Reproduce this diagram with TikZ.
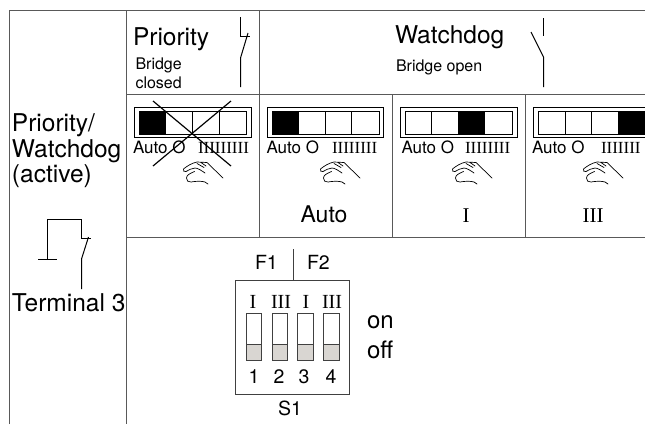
\documentclass[tikz,border=0pt]{standalone}
\usepackage{fontspec}
\setmainfont{TeX Gyre Heros}
\newfontfamily\serifx{Liberation Serif}
\newcommand{\fsz}[1]{\fontsize{#1}{#1}\selectfont}
\definecolor{dipgrey}{HTML}{D9D6D2}
\tikzset{
  txt/.style={inner sep=0pt,outer sep=0pt,anchor=base west,text=black},
  framel/.style={draw=black!65,line width=1pt},
  sym/.style={draw=black,line width=1pt},
  thinbox/.style={draw=black,line width=0.8pt,fill=white},
  bigtxt/.style={txt,font=\fsz{24.5}},
  smalltxt/.style={txt,font=\fsz{16}},
  postxt/.style={txt,font=\fsz{17}},
  posntxt/.style={txt,font=\serifx\fsz{17}},
  midtxt/.style={txt,font=\fsz{19.5},anchor=base},
  romanl/.style={txt,font=\serifx\fsz{21},anchor=base},
  handicon/.pic={
    \draw[black,line width=0.7pt,line cap=round,line join=round]
      (40,17) -- (24,1.5) -- (14,1) .. controls (9,2) and (4,5) .. (0.5,8)
      .. controls (0,10) and (1,11) .. (3,10.5) .. controls (6,9) and (9,7) .. (12,7)
      .. controls (15,7) and (19,10) .. (22,12)
      (11.5,10.5) .. controls (7,12.5) and (3.5,14) .. (3.5,17) .. controls (3.5,20) and (5,21) .. (8,21)
      .. controls (13,20) and (19,20) .. (22,21) -- (25,23)
      (14,2.5) -- (21,6.5) (18,1.5) -- (23,5);
  }
}
\begin{document}
\begin{tikzpicture}[x=1pt,y=-1pt]
\useasboundingbox (0,0) rectangle (645,424);
\fill[white] (0,0) rectangle (645,424);
% table frame
\draw[framel] (9,424) -- (9,10.5) -- (645,10.5);
\draw[framel] (126,10) -- (126,424);
\draw[framel] (126,94) -- (645,94);
\draw[framel] (126,237) -- (645,237);
\draw[framel] (259,10) -- (259,237);
\draw[framel,line width=0.8pt] (392,94) -- (392,237);
\draw[framel,line width=0.8pt] (525,94) -- (525,237);
% left column
\node[txt,font=\fontsize{24.5}{25.5}\selectfont,align=left,anchor=north west] (left) at (12,114) {Priority/\\Watchdog\\(active)};
\node[bigtxt] (term) at (12,311) {Terminal 3};
\draw[sym] (38,259) -- (57,259);
\draw[sym] (47.5,259) -- (47.5,219.5) -- (81.5,219.5) -- (81.5,238) -- (91,238);
\draw[sym] (88.5,237) -- (81.5,259) -- (81.5,289);
% headings
\node[bigtxt] (prio) at (133,45) {Priority};
\node[smalltxt] (br1) at (135.5,69) {Bridge};
\node[smalltxt] (br2) at (135.5,88) {closed};
\node[bigtxt] (wd) at (395,43) {Watchdog};
\node[smalltxt] (brop) at (396,71) {Bridge open};
\draw[sym] (240.5,17) -- (240.5,36) -- (250,36);
\draw[sym] (248,33) -- (240.5,58) -- (240.5,87);
\draw[sym] (543.5,18) -- (543.5,36);
\draw[sym] (531,32) -- (543.5,57) -- (543.5,87);
% rocker 1
\draw[thinbox] (134,107) rectangle (251,137);
\draw[thinbox] (139,111) rectangle (246,134);
\fill[black] (139,111) rectangle (166,134);
\draw[sym,line width=0.8pt] (192,111) -- (192,134) (219,111) -- (219,134);
\node[postxt] (a1) at (133,153) {Auto O};
\node[posntxt] (n1) at (198,153) {IIIIIIIII};
\pic at (183,161) {handicon};
% rocker 2
\draw[thinbox] (267,107) rectangle (383,137);
\draw[thinbox] (272,111) rectangle (379,134);
\fill[black] (272,111) rectangle (299,134);
\draw[sym,line width=0.8pt] (325.5,111) -- (325.5,134) (351.5,111) -- (351.5,134);
\node[postxt] (a2) at (266.5,153) {Auto O};
\node[posntxt] (n2) at (332,153) {IIIIIIII};
\pic at (320,161) {handicon};
\node[txt,font=\fsz{23},anchor=base] (l2) at (324,222) {Auto};
% rocker 3
\draw[thinbox] (400,107) rectangle (517,137);
\draw[thinbox] (405,111) rectangle (512,134);
\fill[black] (458,111) rectangle (485,134);
\draw[sym,line width=0.8pt] (431.7,111) -- (431.7,134);
\node[postxt] (a3) at (401.5,153) {Auto O};
\node[posntxt] (n3) at (465,153) {IIIIIIII};
\pic at (452,161) {handicon};
\node[romanl] (l3) at (466,222) {I};
% rocker 4
\draw[thinbox] (533,107) rectangle (647,137);
\draw[thinbox] (538,111) rectangle (647,134);
\fill[black] (618,111) rectangle (647,134);
\draw[sym,line width=0.8pt] (565,111) -- (565,134) (591.5,111) -- (591.5,134);
\node[postxt] (a4) at (532,153) {Auto O};
\node[posntxt] (n4) at (601,153) {IIIIIII};
\pic at (583,161) {handicon};
\node[romanl] (l4) at (593,222) {III};
% crossed-out position
\draw[black,line width=1.2pt] (153,101) -- (231,166) (231,101) -- (153,166);
% DIP switch
\node[midtxt,anchor=base west] (f1) at (255,269) {F1};
\node[midtxt,anchor=base west] (f2) at (307,269) {F2};
\draw[draw=black!75,line width=0.9pt] (293,249) -- (293,280);
\draw[draw=black!75,line width=0.9pt] (235,280) rectangle (349,394);
\foreach \xl/\xr/\lx/\nx/\lab/\num in {246/261/253/254/I/1,272/287/281/279/III/2,297/313/306/304/I/3,323/339/332/331/III/4}{
  \draw[draw=black!75,line width=0.8pt,fill=white] (\xl,313) rectangle (\xr,360);
  \draw[draw=black!75,line width=0.8pt,fill=dipgrey] (\xl,344) rectangle (\xr,360);
  \node[romanl,font=\serifx\fsz{20}] at (\lx,308) {\lab};
  \node[midtxt] at (\nx,383) {\num};
}
\node[midtxt,anchor=base west] (s1) at (278,415) {S1};
\node[txt,font=\fsz{24}] (on) at (367,328) {on};
\node[txt,font=\fsz{24}] (off) at (367,358) {off};
\end{tikzpicture}
\end{document}
